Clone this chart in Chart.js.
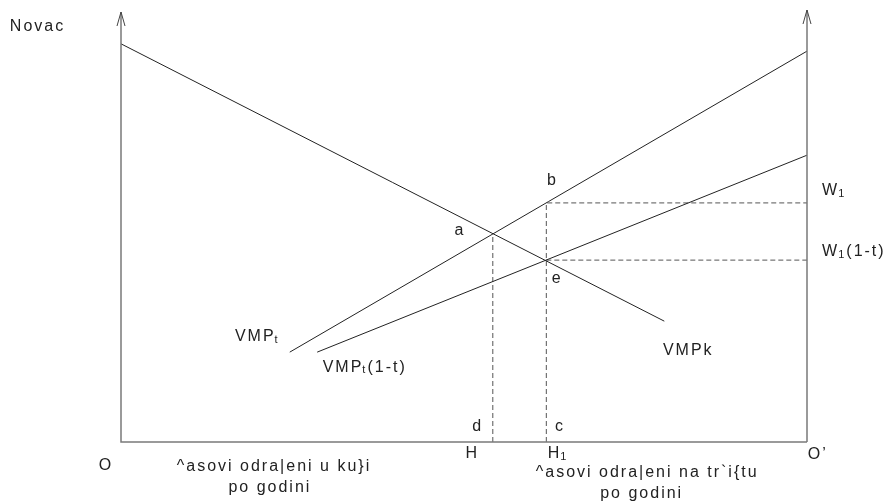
<!DOCTYPE html>
<html>
<head>
<meta charset="utf-8">
<script src="https://cdn.jsdelivr.net/npm/chart.js@4"></script>
<style>
  body { margin: 0; background: #fff; }
</style>
</head>
<body>
<canvas id="chart" width="888" height="503"></canvas>
<script>
// hours (0..100 across the axis) and money (0..100 up the axis)
const vmpkHours = [0, 79.2];
const vmpkMoney = [92.6, 28.1];
const vmptHours = [24.6, 100];
const vmptMoney = [20.9, 90.9];
const vmptNetHours = [28.6, 100];
const vmptNetMoney = [20.9, 66.7];

// equilibrium points a, b, e
const pointA = [54.2, 48.5];
const pointB = [62.0, 55.6];
const pointE = [62.0, 42.3];

// text labels, "_x" = subscript char
const labelTexts = ['Novac', 'a', 'b', 'e', 'W_1', 'W_1(1-t)', 'VMP_t', 'VMP_t(1-t)', 'VMPk',
  'd', 'c', 'O', 'H', 'H_1', 'O\u2019',
  '^asovi odra|eni u ku}i', 'po godini', '^asovi odra|eni na tr`i{tu', 'po godini'];
const labelX = [-16.2, 49.4, 62.1, 62.8, 102.2, 102.2, 16.6, 29.4, 79.0,
  52.0, 64.0, -2.2, 51.2, 62.2, 100.1, 22.3, 21.7, 76.7, 75.9];
const labelY = [96.7, 49.1, 60.7, 38.1, 58.4, 44.2, 24.4, 17.4, 21.2,
  3.5, 3.5, -5.6, -2.8, -2.8, -3.0, -5.8, -10.5, -7.2, -12.1];
const labelAlign = ['left', 'center', 'left', 'left', 'left', 'left', 'left', 'left', 'left',
  'center', 'center', 'center', 'center', 'left', 'left', 'center', 'center', 'center', 'center'];

function pts(xs, ys) {
  return xs.map((x, i) => ({ x: x, y: ys[i] }));
}

const solid = { borderColor: '#222', borderWidth: 1, pointRadius: 0, showLine: true, fill: false };
const dashed = { borderColor: '#555', borderWidth: 1, borderDash: [5, 3], pointRadius: 0, showLine: true, fill: false };

const datasets = [
  Object.assign({ data: pts(vmpkHours, vmpkMoney) }, solid),
  Object.assign({ data: pts(vmptHours, vmptMoney) }, solid),
  Object.assign({ data: pts(vmptNetHours, vmptNetMoney) }, solid),
  Object.assign({ data: [{ x: pointA[0], y: 0 }, { x: pointA[0], y: pointA[1] }] }, dashed),
  Object.assign({ data: [{ x: pointB[0], y: 0 }, { x: pointB[0], y: pointB[1] }, { x: 100, y: pointB[1] }] }, dashed),
  Object.assign({ data: [{ x: pointE[0], y: pointE[1] }, { x: 100, y: pointE[1] }] }, dashed),
];

function drawLabel(ctx, text, px, py, align) {
  const parts = [];
  for (let i = 0; i < text.length; i++) {
    if (text[i] === '_' && i + 1 < text.length) {
      parts.push({ t: text[i + 1], sub: true });
      i++;
    } else {
      if (parts.length && !parts[parts.length - 1].sub) parts[parts.length - 1].t += text[i];
      else parts.push({ t: text[i], sub: false });
    }
  }
  const big = '16px "Liberation Sans", Arial, sans-serif';
  const small = '11px "Liberation Sans", Arial, sans-serif';
  ctx.letterSpacing = '2px';
  let total = 0;
  parts.forEach(p => {
    ctx.font = p.sub ? small : big;
    p.w = ctx.measureText(p.t).width;
    total += p.w;
  });
  let x = align === 'center' ? px - total / 2 : px;
  ctx.textAlign = 'left';
  ctx.textBaseline = 'middle';
  parts.forEach(p => {
    ctx.font = p.sub ? small : big;
    ctx.fillText(p.t, p.sub ? x - 1 : x, p.sub ? py + 3 : py);
    x += p.sub ? p.w - 1 : p.w;
  });
}

const diagramPlugin = {
  id: 'diagram',
  afterDraw(chart) {
    const ctx = chart.ctx;
    const xs = chart.scales.x, ys = chart.scales.y;
    const left = xs.getPixelForValue(0), right = xs.getPixelForValue(100);
    const bottom = ys.getPixelForValue(0), top = ys.getPixelForValue(100);
    ctx.save();
    ctx.strokeStyle = '#7a7a7a';
    ctx.lineWidth = 1.5;
    ctx.beginPath();
    ctx.moveTo(left, top);
    ctx.lineTo(left, bottom);
    ctx.lineTo(right, bottom);
    ctx.moveTo(right, bottom);
    ctx.lineTo(right, top - 2);
    ctx.stroke();
    ctx.lineWidth = 1;
    ctx.strokeStyle = '#444';
    [[left, top], [right, top - 2]].forEach(([ax, ay]) => {
      ctx.beginPath();
      ctx.moveTo(ax - 4, ay + 14);
      ctx.lineTo(ax, ay);
      ctx.lineTo(ax + 4, ay + 14);
      ctx.stroke();
    });
    ctx.fillStyle = '#222';
    labelTexts.forEach((t, i) => {
      drawLabel(ctx, t, xs.getPixelForValue(labelX[i]), ys.getPixelForValue(labelY[i]), labelAlign[i]);
    });
    ctx.restore();
  }
};

new Chart(document.getElementById('chart').getContext('2d'), {
  type: 'scatter',
  data: { datasets: datasets },
  options: {
    responsive: false,
    animation: false,
    layout: { padding: { left: 121, right: 81, top: 12, bottom: 61 } },
    plugins: { legend: { display: false }, tooltip: { enabled: false } },
    scales: {
      x: { type: 'linear', min: 0, max: 100, display: false },
      y: { type: 'linear', min: 0, max: 100, display: false },
    },
  },
  plugins: [diagramPlugin],
});
</script>
</body>
</html>
